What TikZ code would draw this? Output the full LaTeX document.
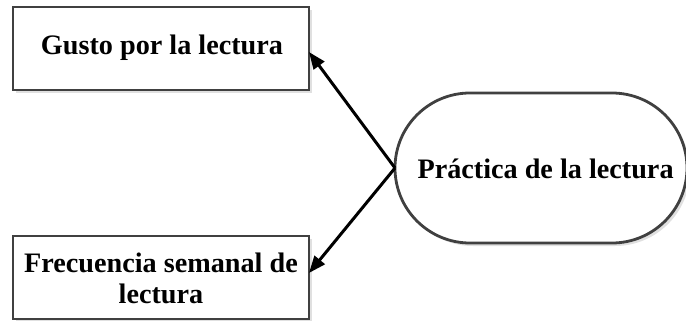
\documentclass[tikz,border=0pt]{standalone}
\usepackage{fontspec}
\setmainfont{Liberation Serif}
\usetikzlibrary{arrows.meta}
\begin{document}
\begin{tikzpicture}[x=1pt,y=-1pt,
  boxst/.style={draw=black!75, line width=2.8pt, fill=white, inner sep=0pt},
  lbl/.style={font=\fontsize{28.2}{31}\selectfont\bfseries, align=center},
  arr/.style={line width=3pt, -{Triangle[length=17pt,width=13pt]}}]
\useasboundingbox (0,0) rectangle (686,321);
% shadows
\fill[black!12] (16,10) rectangle (312,93);
\fill[black!12] (16,239) rectangle (312,322);
\fill[black!12, rounded corners=75pt] (398,96) rectangle (690,246);
\node[boxst, minimum width=296pt, minimum height=83pt] (gusto) at (161,48.5) {};
\node[lbl] at (162,48) {Gusto por la lectura};
\node[boxst, minimum width=296pt, minimum height=83pt] (frec) at (161,277.5) {};
\node[lbl] at (161,278) {Frecuencia semanal de\\lectura};
\draw[draw=black!75, line width=2.8pt, fill=white, rounded corners=75pt] (395,93) rectangle (687,243);
\coordinate (pc) at (395,168);
\node[lbl, anchor=west] (prac) at (414,169) {Práctica de la lectura};
\coordinate (gt) at (309,52);
\coordinate (ft) at (309,273);
\draw[arr] (pc) -- (gt);
\draw[arr] (pc) -- (ft);
\end{tikzpicture}
\end{document}
